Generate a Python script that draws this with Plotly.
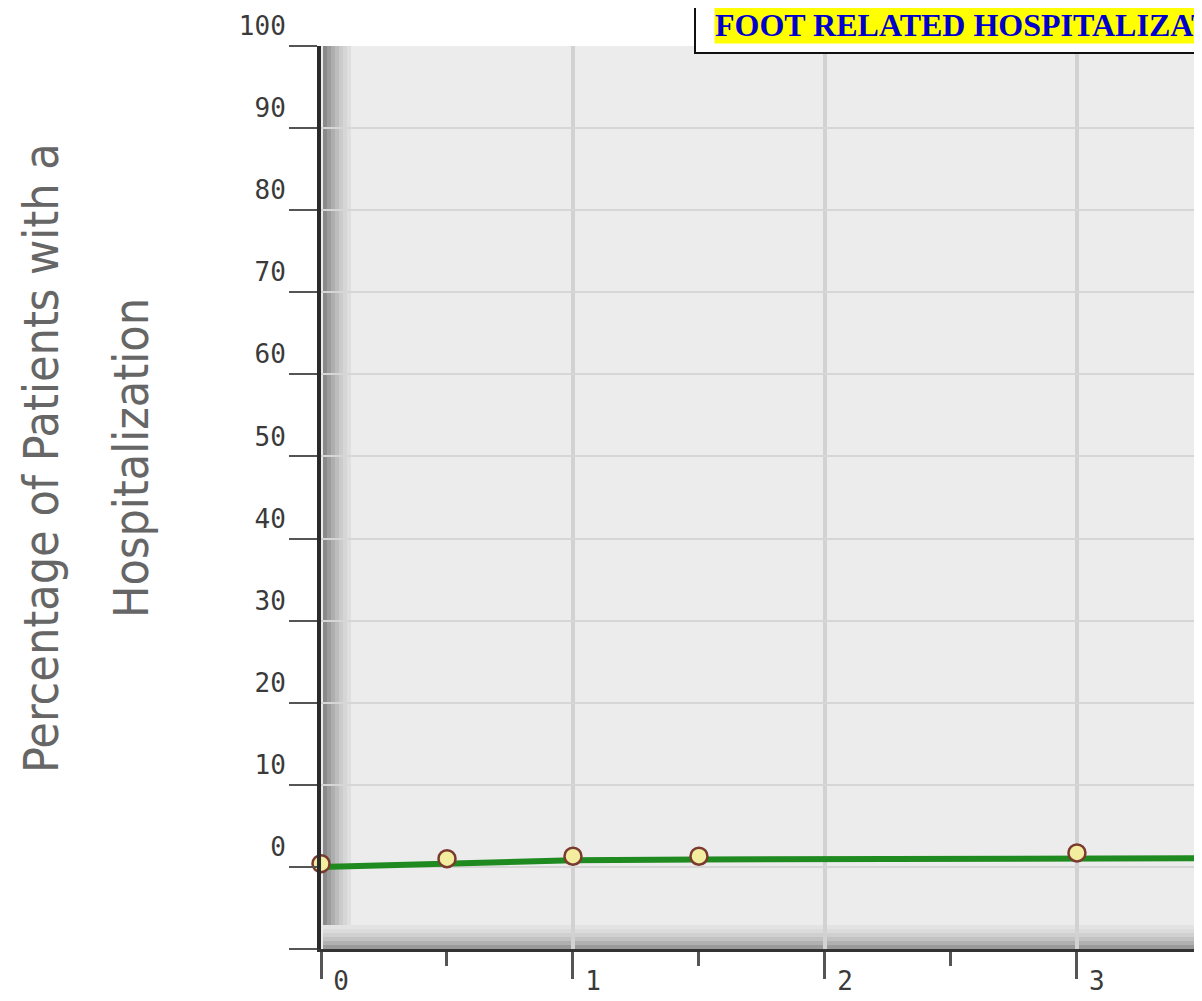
import plotly.graph_objects as go

# ---- data ----
line_x = [0, 0.5, 1, 1.5, 3, 4]
line_y = [0.0, 0.4, 0.8, 0.9, 1.1, 1.1]
point_x = [0, 0.5, 1, 1.5, 3]
point_y = [0.4, 1.0, 1.3, 1.3, 1.7]
y_tickvals = [-10, 0, 10, 20, 30, 40, 50, 60, 70, 80, 90, 100]
y_ticktext = ["", "0", "10", "20", "30", "40", "50", "60", "70", "80", "90", "100"]
x_tickvals = [0, 1, 2, 3]
x_ticktext = ["0", "1", "2", "3"]
title_text = "FOOT RELATED HOSPITALIZATIONS"
ytitle_lines = ["Percentage of Patients with a", "Hospitalization"]

W, H = 1202, 1001
OFF = 7  # page offset of the figure inside the browser window
L, T = 320 - OFF, 45 - OFF
R = 0
B = H - (948 - OFF)
pw, ph = W - L - R, H - T - B

def px_x(p):
    return (p - OFF - L) / pw

def px_y(p):
    return (H - B - (p - OFF)) / ph

fig = go.Figure()
fig.add_trace(go.Scatter(x=line_x, y=line_y, mode="lines",
                         line=dict(color="#1f8a1f", width=6),
                         cliponaxis=True, showlegend=False, hoverinfo="skip"))
fig.add_trace(go.Scatter(x=point_x, y=point_y, mode="markers",
                         marker=dict(symbol="circle", size=17, color="#f3eda0",
                                     line=dict(color="#7a3a30", width=2.5)),
                         cliponaxis=False, showlegend=False))

tick_font = dict(family="DejaVu Sans Mono, Liberation Mono, monospace", size=26, color="#3a3a3a")

fig.update_xaxes(range=[0, 3.528], tickvals=x_tickvals, ticktext=x_ticktext,
                 automargin=False,
                 ticks="outside", ticklen=27, tickwidth=3, tickcolor="#555555",
                 ticklabelshift=20, ticklabelstandoff=-20,
                 minor=dict(tickvals=[0.5, 1.5, 2.5, 3.5], ticks="outside", ticklen=14,
                            tickwidth=3, tickcolor="#555555", showgrid=False),
                 showgrid=True, gridcolor="#d2d2d2", gridwidth=4,
                 showline=True, linecolor="#333333", linewidth=3,
                 zeroline=False, tickfont=tick_font)
fig.update_yaxes(range=[-10, 100], tickvals=y_tickvals, ticktext=y_ticktext,
                 automargin=False,
                 ticks="outside", ticklen=28, tickwidth=2, tickcolor="#555555",
                 ticklabelshift=-20, ticklabelstandoff=-2,
                 showgrid=True, gridcolor="#d6d6d6", gridwidth=2,
                 showline=True, linecolor="#2a2a2a", linewidth=4,
                 zeroline=False, tickfont=tick_font)

shapes = []
# left 3D shading band next to the y-axis
band = ["#8a8a8a", "#9c9c9c", "#aeaeae", "#bdbdbd", "#cbcbcb", "#d6d6d6", "#dfdfdf"]
for i, c in enumerate(band):
    shapes.append(dict(type="rect", xref="paper", yref="paper", layer="below",
                       x0=px_x(322 + i * 4), x1=px_x(326 + i * 4), y0=0, y1=1,
                       fillcolor=c, line=dict(width=0)))
# bottom shading band above the x-axis
bband = ["#9a9a9a", "#b0b0b0", "#c2c2c2", "#d0d0d0", "#dbdbdb", "#e3e3e3"]
for i, c in enumerate(bband):
    shapes.append(dict(type="rect", xref="paper", yref="paper", layer="below",
                       x0=px_x(322), x1=1, y0=px_y(948 - i * 4), y1=px_y(944 - i * 4),
                       fillcolor=c, line=dict(width=0)))
# title box
shapes.append(dict(type="rect", xref="paper", yref="paper", layer="above",
                   x0=px_x(694), x1=px_x(1240), y0=px_y(52), y1=px_y(-10),
                   fillcolor="white", line=dict(color="#111111", width=2)))

annotations = [
    dict(text=title_text, xref="paper", yref="paper", x=px_x(713), y=px_y(24),
         xanchor="left", yanchor="middle", showarrow=False, bgcolor="#ffff00",
         borderpad=0,
         font=dict(family="Liberation Serif, Times New Roman, serif", size=32,
                   color="#0000cc", weight="bold")),
    dict(text=ytitle_lines[0], xref="paper", yref="paper", x=px_x(40), y=px_y(457),
         xanchor="center", yanchor="middle", textangle=-90, showarrow=False,
         font=dict(family="Liberation Sans Narrow, DejaVu Sans Condensed, sans-serif",
                   size=48, color="#666666")),
    dict(text=ytitle_lines[1], xref="paper", yref="paper", x=px_x(130), y=px_y(457),
         xanchor="center", yanchor="middle", textangle=-90, showarrow=False,
         font=dict(family="Liberation Sans Narrow, DejaVu Sans Condensed, sans-serif",
                   size=48, color="#666666")),
]

fig.update_layout(width=W, height=H, margin=dict(l=L, r=R, t=T, b=B),
                  paper_bgcolor="white", plot_bgcolor="#ececec",
                  shapes=shapes, annotations=annotations, showlegend=False)

fig.write_html("out.html")
